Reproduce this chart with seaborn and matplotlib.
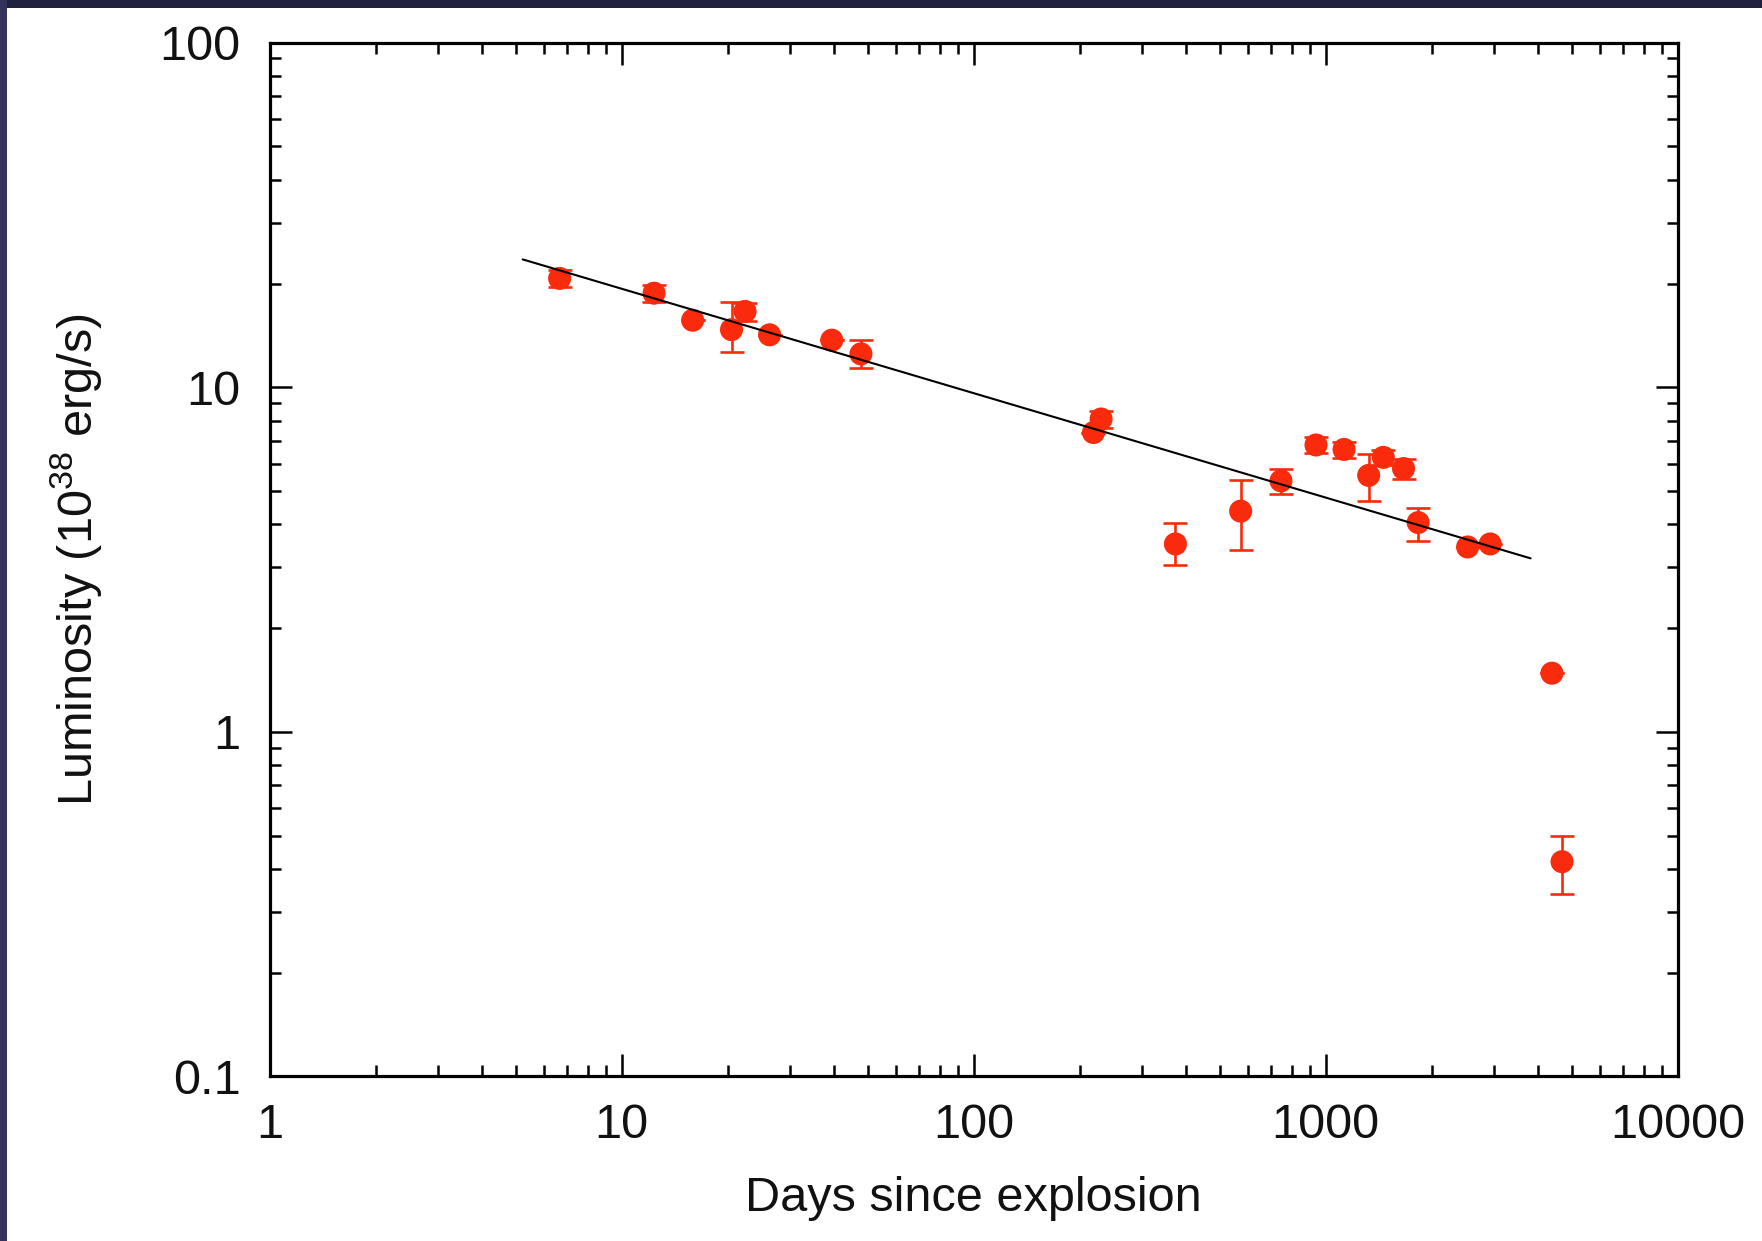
import numpy as np
import pandas as pd
import matplotlib
matplotlib.use("Agg")
import matplotlib.pyplot as plt
import seaborn as sns
from matplotlib.ticker import FixedLocator, FixedFormatter, LogLocator, NullFormatter
from matplotlib.patches import Rectangle

# ---- data ----
days = [6.66, 12.35, 15.9, 20.5, 22.4, 26.3, 39.5, 47.8, 218.8, 230, 374, 573,
        746, 938, 1127, 1324, 1457, 1663, 1830, 2529, 2931, 4390, 4690]
lum = [20.7, 18.75, 15.65, 14.7, 16.6, 14.2, 13.7, 12.5, 7.39, 8.09, 3.51, 4.37,
       5.35, 6.8, 6.6, 5.55, 6.26, 5.81, 4.05, 3.44, 3.51, 1.48, 0.42]
err_lo = [1.2, 1.1, 0.0, 2.0, 1.0, 0.0, 0.0, 1.1, 0.0, 0.45, 0.46, 0.99,
          0.45, 0.35, 0.35, 0.88, 0.3, 0.4, 0.46, 0.0, 0.0, 0.0, 0.082]
err_hi = [1.2, 1.1, 0.0, 2.95, 1.0, 0.0, 0.0, 1.2, 0.0, 0.45, 0.54, 1.02,
          0.45, 0.35, 0.35, 0.85, 0.3, 0.4, 0.42, 0.0, 0.0, 0.0, 0.079]
fit_days = [5.23, 3820]
fit_norm = 38.8
fit_index = -0.303

x_ticks = [1, 10, 100, 1000, 10000]
x_ticklabels = ["1", "10", "100", "1000", "10000"]
y_ticks = [0.1, 1, 10, 100]
y_ticklabels = ["0.1", "1", "10", "100"]

df = pd.DataFrame({"days": days, "lum": lum})
fit_df = pd.DataFrame({"days": fit_days,
                       "lum": [fit_norm * d ** fit_index for d in fit_days]})

# ---- style ----
sns.set_style("ticks")
plt.rcParams["font.family"] = ["Liberation Sans", "DejaVu Sans"]
plt.rcParams["mathtext.fontset"] = "custom"
plt.rcParams["mathtext.rm"] = "Liberation Sans"
plt.rcParams["mathtext.it"] = "Liberation Sans"

RED = "#fa2a0c"
TXT = "#111111"
FS = 35

fig = plt.figure(figsize=(17.62, 12.41), dpi=100, facecolor="white")
ax = fig.add_axes([0.1531, 0.1326, 0.9522 - 0.1531, 0.9656 - 0.1326])

# border strips of the screenshot
fig.patches.append(Rectangle((0, 1 - 8 / 1241), 1, 8 / 1241, transform=fig.transFigure,
                             facecolor="#20203f", edgecolor="none", zorder=0))
fig.patches.append(Rectangle((0, 0), 7 / 1762, 1, transform=fig.transFigure,
                             facecolor="#33335e", edgecolor="none", zorder=0))

ax.set_xscale("log")
ax.set_yscale("log")

ax.errorbar(days, lum, yerr=[err_lo, err_hi], fmt="none", ecolor=RED,
            elinewidth=1.9, capsize=8.5, capthick=1.9, zorder=3)
sns.scatterplot(data=df, x="days", y="lum", ax=ax, color=RED, s=275,
                edgecolor="none", zorder=4, legend=False)
sns.lineplot(data=fit_df, x="days", y="lum", ax=ax, color="black", lw=1.5,
             zorder=5, legend=False)

ax.set_xlim(1, 10000)
ax.set_ylim(0.1, 100)

ax.xaxis.set_major_locator(FixedLocator(x_ticks))
ax.xaxis.set_major_formatter(FixedFormatter(x_ticklabels))
ax.yaxis.set_major_locator(FixedLocator(y_ticks))
ax.yaxis.set_major_formatter(FixedFormatter(y_ticklabels))
ax.xaxis.set_minor_locator(LogLocator(base=10, subs=np.arange(2, 10), numticks=20))
ax.yaxis.set_minor_locator(LogLocator(base=10, subs=np.arange(2, 10), numticks=20))
ax.xaxis.set_minor_formatter(NullFormatter())
ax.yaxis.set_minor_formatter(NullFormatter())

ax.tick_params(which="both", direction="in", top=True, right=True,
               color="black", width=1.8)
ax.tick_params(which="major", length=16, labelsize=FS, labelcolor=TXT)
ax.tick_params(axis="y", which="major", pad=21)
ax.tick_params(axis="x", which="major", pad=19)
ax.tick_params(which="minor", length=8)

for sp in ax.spines.values():
    sp.set_linewidth(2.3)
    sp.set_color("black")

ax.set_xlabel("Days since explosion", fontsize=FS, color=TXT)
ax.set_ylabel(r"Luminosity (10$^{38}$ erg/s)", fontsize=FS, color=TXT)
ax.xaxis.set_label_coords(0.5, -0.096)
ax.yaxis.set_label_coords(-0.118, 0.5)

fig.savefig("out.png", dpi=100, facecolor="white")
